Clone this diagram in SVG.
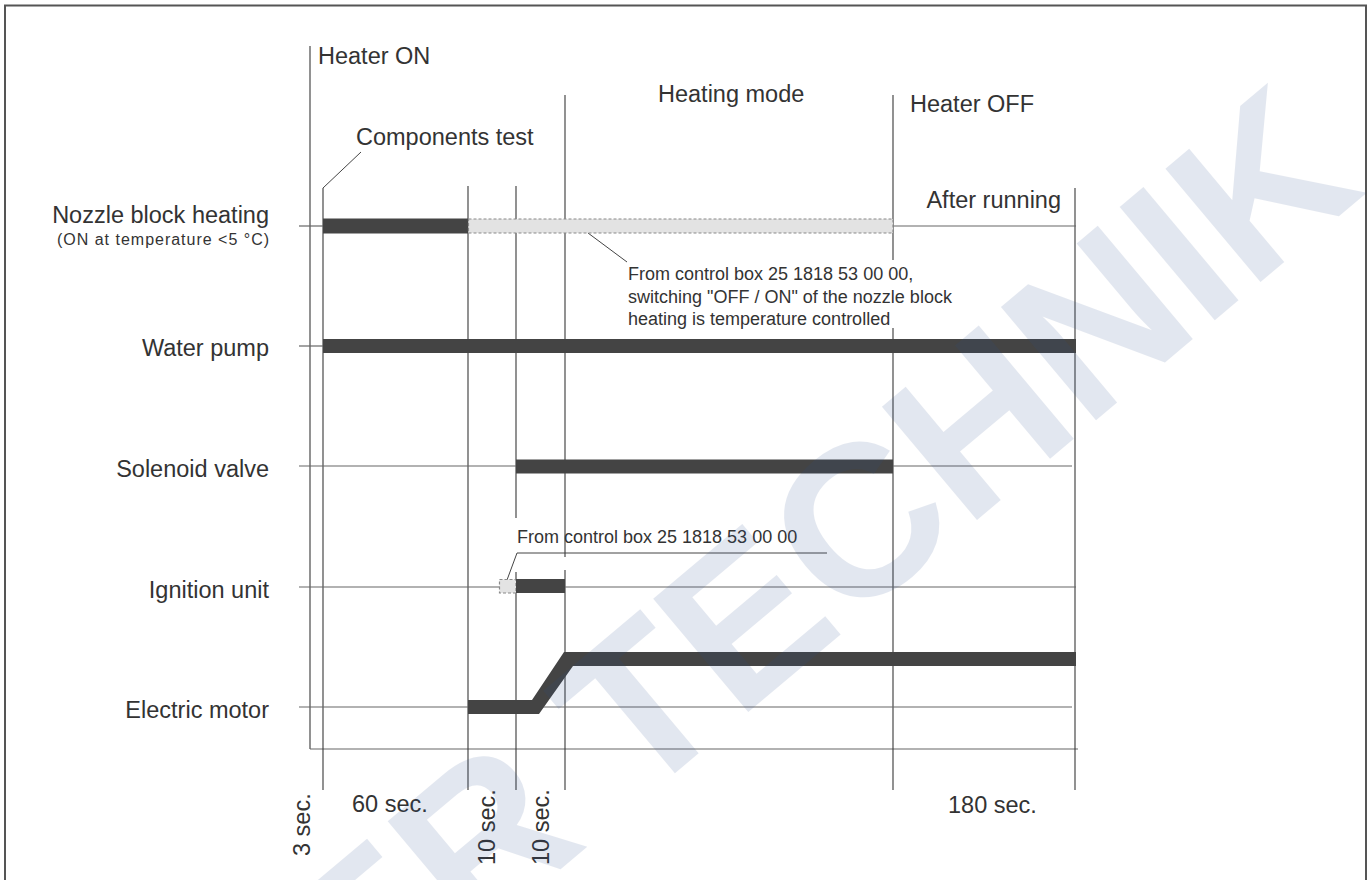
<svg xmlns="http://www.w3.org/2000/svg" width="1370" height="880" viewBox="0 0 1370 880">
  <defs>
    <style>
      .lbl { font-family: "Liberation Sans", Arial, sans-serif; font-size: 23.5px; fill: #333; }
      .sm { font-family: "Liberation Sans", Arial, sans-serif; font-size: 16px; fill: #333; }
      .note { font-family: "Liberation Sans", Arial, sans-serif; font-size: 18px; fill: #333; }
      .v { stroke: #383838; stroke-width: 1.1; fill: none; }
      .h { stroke: #666; stroke-width: 1.2; fill: none; }
      .bar { fill: #444; }
      .dash { fill: #e3e3e3; stroke: #8a8a8a; stroke-width: 1.2; stroke-dasharray: 3 2; }
      .lead { stroke: #444; stroke-width: 1; fill: none; }
      .wm { font-family: "Liberation Sans", Arial, sans-serif; font-weight: bold; font-size: 215px; fill: #2c4f8f; opacity: 0.13; }
    </style>
  </defs>
  <rect x="0" y="0" width="1370" height="880" fill="#fff"/>
  <rect x="5" y="5.5" width="1361" height="900" fill="none" stroke="#555" stroke-width="2"/>

  <g id="grid">
    <line class="v" x1="310" y1="46" x2="310" y2="749"/>
    <line class="h" x1="310" y1="749" x2="1078" y2="749"/>
    <line class="v" x1="323" y1="188" x2="323" y2="790"/>
    <line class="v" x1="468" y1="186" x2="468" y2="790"/>
    <line class="v" x1="516" y1="186" x2="516" y2="518"/>
    <line class="v" x1="516" y1="572" x2="516" y2="790"/>
    <line class="v" x1="565" y1="95" x2="565" y2="557"/>
    <line class="v" x1="565" y1="570" x2="565" y2="790"/>
    <line class="v" x1="893" y1="95" x2="893" y2="260"/>
    <line class="v" x1="893" y1="328" x2="893" y2="790"/>
    <line class="v" x1="1075" y1="188" x2="1075" y2="790"/>
  </g>

  <g id="connectors">
    <line class="lead" x1="323" y1="188" x2="361" y2="152"/>
    <line class="lead" x1="588" y1="233" x2="627" y2="262"/>
    <line class="lead" x1="507" y1="580" x2="517" y2="553"/>
    <line class="lead" x1="517" y1="553" x2="827" y2="553"/>
  </g>

  <g id="header-labels">
    <text class="lbl" x="318" y="64">Heater ON</text>
    <text class="lbl" x="356" y="145">Components test</text>
    <text class="lbl" x="658" y="102">Heating mode</text>
    <text class="lbl" x="910" y="112">Heater OFF</text>
    <text class="lbl" x="1061" y="208" text-anchor="end">After running</text>
  </g>

  <g id="nozzle-block-heating">
    <line class="h" x1="299" y1="226" x2="323" y2="226"/>
    <line class="h" x1="893" y1="226" x2="1076" y2="226"/>
    <rect class="bar" x="323" y="218.5" width="145" height="15"/>
    <rect class="dash" x="468.5" y="219" width="424.5" height="14"/>
    <text class="lbl" x="269" y="223" text-anchor="end">Nozzle block heating</text>
    <text class="sm" x="57" y="245" textLength="212" lengthAdjust="spacing">(ON at temperature &lt;5 °C)</text>
    <text class="note" x="628" y="280">From control box 25 1818 53 00 00,</text>
    <text class="note" x="628" y="303">switching "OFF / ON" of the nozzle block</text>
    <text class="note" x="628" y="325">heating is temperature controlled</text>
  </g>

  <g id="water-pump">
    <line class="h" x1="299" y1="346" x2="323" y2="346"/>
    <rect class="bar" x="323" y="339" width="753" height="14"/>
    <text class="lbl" x="269" y="356" text-anchor="end">Water pump</text>
  </g>

  <g id="solenoid-valve">
    <line class="h" x1="299" y1="466" x2="1072" y2="466"/>
    <rect class="bar" x="516" y="459.5" width="377" height="14"/>
    <text class="lbl" x="269" y="477" text-anchor="end">Solenoid valve</text>
  </g>

  <g id="ignition-unit">
    <line class="h" x1="299" y1="587" x2="1076" y2="587"/>
    <rect class="dash" x="499.5" y="579.5" width="16.5" height="13.5"/>
    <rect class="bar" x="516" y="579" width="49" height="14"/>
    <text class="lbl" x="269" y="598" text-anchor="end">Ignition unit</text>
    <text class="note" x="517" y="543">From control box 25 1818 53 00 00</text>
  </g>

  <g id="electric-motor">
    <line class="h" x1="299" y1="707" x2="1072" y2="707"/>
    <polygon class="bar" points="468,700 532,700 564,652 1076,652 1076,666 573,666 539,714 468,714"/>
    <text class="lbl" x="269" y="718" text-anchor="end">Electric motor</text>
  </g>

  <g id="time-labels">
    <text class="lbl" transform="translate(310,856) rotate(-90)">3 sec.</text>
    <text class="lbl" x="352" y="812">60 sec.</text>
    <text class="lbl" transform="translate(495,865) rotate(-90)">10 sec.</text>
    <text class="lbl" transform="translate(549,865) rotate(-90)">10 sec.</text>
    <text class="lbl" x="948" y="813">180 sec.</text>
  </g>

  <text class="wm" transform="translate(362,1036) rotate(-40)">ER TECHNIK</text>
</svg>
